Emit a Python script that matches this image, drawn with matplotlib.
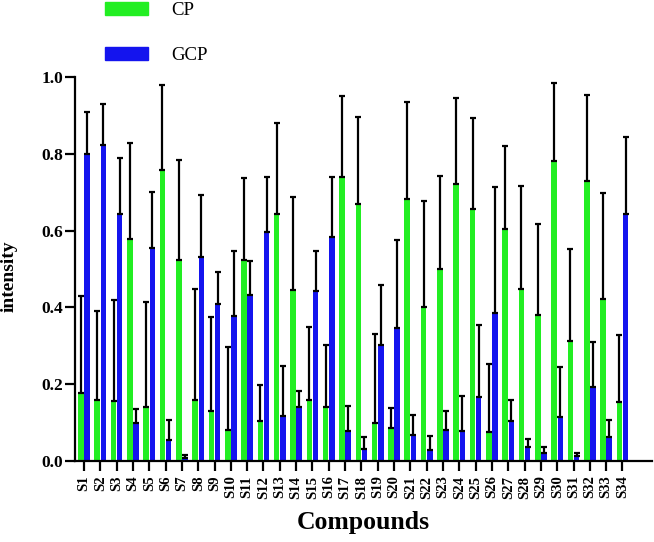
import matplotlib
matplotlib.use("Agg")
import matplotlib.pyplot as plt
import numpy as np
from matplotlib.patches import Patch

compounds = [f"S{i}" for i in range(1, 35)]

cp_mean = [0.177, 0.159, 0.156, 0.577, 0.141, 0.758, 0.524, 0.159, 0.130, 0.082,
           0.523, 0.105, 0.643, 0.445, 0.160, 0.141, 0.739, 0.668, 0.100, 0.085,
           0.681, 0.400, 0.501, 0.721, 0.656, 0.076, 0.604, 0.447, 0.381, 0.780,
           0.312, 0.729, 0.422, 0.154]
cp_upper = [0.430, 0.390, 0.420, 0.828, 0.415, 0.980, 0.783, 0.449, 0.376, 0.298,
            0.737, 0.198, 0.881, 0.688, 0.350, 0.302, 0.950, 0.897, 0.330, 0.139,
            0.934, 0.678, 0.742, 0.944, 0.893, 0.252, 0.819, 0.717, 0.617, 0.983,
            0.551, 0.953, 0.699, 0.329]

gcp_mean = [0.800, 0.822, 0.644, 0.100, 0.554, 0.055, 0.009, 0.530, 0.410, 0.378,
            0.432, 0.597, 0.117, 0.141, 0.442, 0.584, 0.079, 0.032, 0.302, 0.347,
            0.068, 0.030, 0.082, 0.078, 0.167, 0.385, 0.105, 0.036, 0.020, 0.114,
            0.013, 0.193, 0.063, 0.644]
gcp_upper = [0.910, 0.930, 0.790, 0.136, 0.700, 0.107, 0.016, 0.693, 0.491, 0.547,
             0.522, 0.740, 0.247, 0.182, 0.547, 0.739, 0.144, 0.062, 0.458, 0.576,
             0.121, 0.065, 0.130, 0.170, 0.354, 0.714, 0.160, 0.057, 0.036, 0.244,
             0.022, 0.311, 0.107, 0.844]

GREEN = "#22EE22"
BLUE = "#1414EE"

plt.rcParams["font.family"] = ["Liberation Serif", "DejaVu Serif"]

fig = plt.figure(figsize=(6.54, 5.42), dpi=100)
ax = fig.add_axes([0.1147, 0.1494, 0.882, 0.7086])

x = np.arange(len(compounds))
w = 0.34
cp_err = np.array(cp_upper) - np.array(cp_mean)
gcp_err = np.array(gcp_upper) - np.array(gcp_mean)

ax.bar(x - w / 2 - 0.02, cp_mean, width=w, color=GREEN)
ax.bar(x + w / 2 + 0.02, gcp_mean, width=w, color=BLUE)
ax.errorbar(x - w / 2 - 0.02, cp_mean, yerr=[np.zeros_like(cp_err), cp_err],
            fmt="none", ecolor="black", elinewidth=1.6, capsize=2, capthick=1.6)
ax.errorbar(x + w / 2 + 0.02, gcp_mean, yerr=[np.zeros_like(gcp_err), gcp_err],
            fmt="none", ecolor="black", elinewidth=1.6, capsize=2, capthick=1.6)

ax.set_xlim(-0.55, 34.8)
ax.set_ylim(0, 1.0)
ax.set_yticks([0.0, 0.2, 0.4, 0.6, 0.8, 1.0])
ax.set_yticklabels(["0.0", "0.2", "0.4", "0.6", "0.8", "1.0"], fontsize=12.5, fontweight="bold")
ax.set_xticks(x)
ax.set_xticklabels(compounds, rotation=90, fontsize=10.5, fontweight="bold")
ax.tick_params(axis="both", direction="out", length=7, width=1.6)
ax.tick_params(axis="y", pad=1.5)

for side in ["top", "right"]:
    ax.spines[side].set_visible(False)
ax.spines["left"].set_linewidth(1.6)
ax.spines["bottom"].set_linewidth(1.6)
ax.spines["left"].set_bounds(0, 1.0)
for line in ax.collections:
    line.set_clip_on(False)

ax.set_ylabel("intensity", fontsize=14, fontweight="bold")
ax.yaxis.set_label_coords(-0.1, 0.48)
ax.set_xlabel("Compounds", fontsize=18.5, fontweight="bold", labelpad=9)

# legend sits above the plot area, outside the axes
handles = [Patch(color=GREEN, label="CP"), Patch(color=BLUE, label="GCP")]
fig.legend(handles=handles, loc="upper left", bbox_to_anchor=(0.135, 1.028),
           frameon=False, fontsize=13.5, handlelength=2.3, handleheight=0.7,
           handletextpad=1.2, labelspacing=1.5)

fig.savefig("out.png", dpi=100)
